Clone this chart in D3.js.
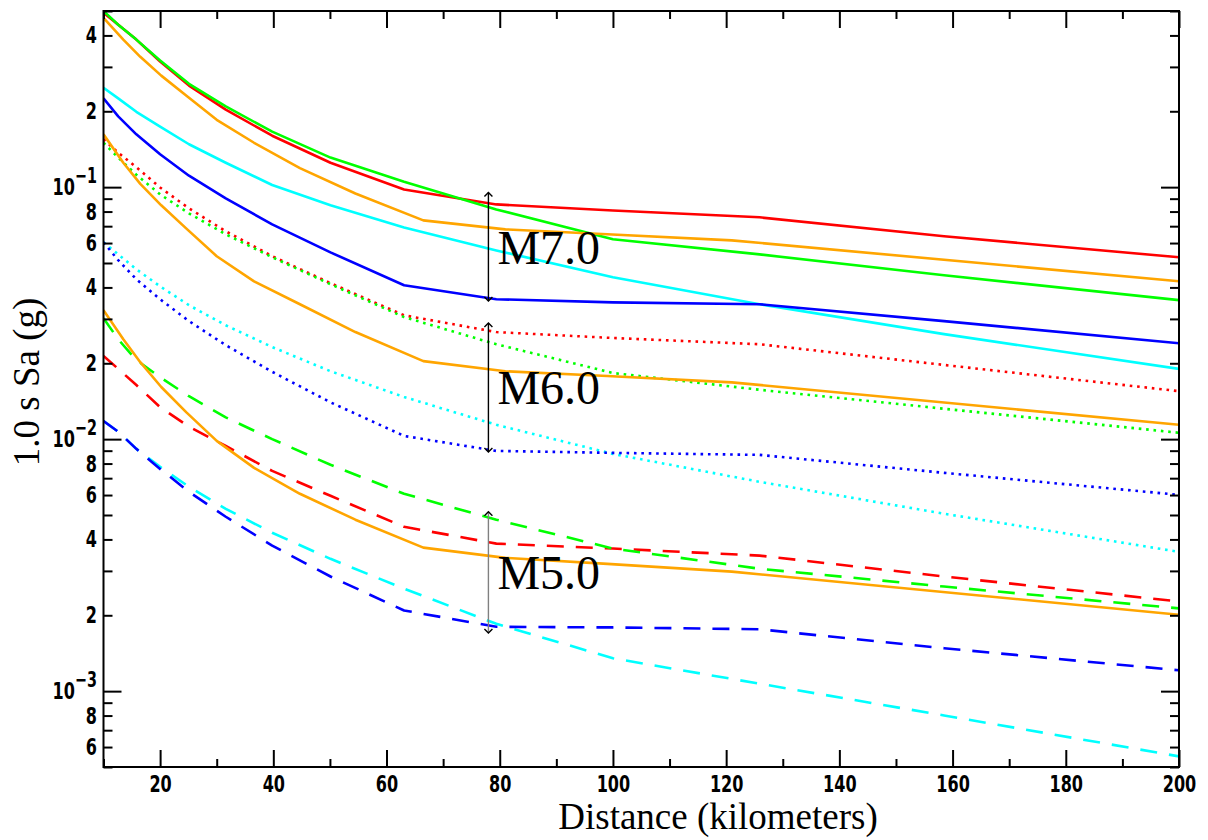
<!DOCTYPE html>
<html>
<head>
<meta charset="utf-8">
<script src="https://cdn.jsdelivr.net/npm/d3@7"></script>
<style>
  body { margin: 0; background: #ffffff; }
  svg { display: block; }
</style>
</head>
<body>
<svg id="chart" width="1208" height="840"></svg>
<script>
// Distance samples (km) for the four attenuation models
const distances = [10, 12.6, 15.8, 20, 25.1, 31.6, 39.8, 50.1, 63.1, 79.4, 100, 125.9, 158.5, 200];
// Distance samples (km) for the orange reference curves
const distancesOrange = [10, 13.5, 16.5, 20.2, 24.6, 30, 36.6, 44.7, 54.5, 66.5, 81, 99, 121, 200];

// 1.0 s spectral acceleration (g), magnitude 7.0
const redM7    = [0.492, 0.441, 0.385, 0.315, 0.253, 0.203, 0.160, 0.125, 0.0979, 0.0854, 0.0808, 0.0759, 0.0638, 0.0527];
const greenM7  = [0.500, 0.441, 0.385, 0.318, 0.257, 0.209, 0.166, 0.131, 0.105, 0.0816, 0.0621, 0.0541, 0.0447, 0.0356];
const cyanM7   = [0.248, 0.225, 0.199, 0.174, 0.148, 0.125, 0.102, 0.0847, 0.0692, 0.0561, 0.0439, 0.0343, 0.0261, 0.0190];
const blueM7   = [0.225, 0.191, 0.162, 0.135, 0.111, 0.0902, 0.0712, 0.0551, 0.0408, 0.0359, 0.0349, 0.0343, 0.0294, 0.0240];
const orangeM7 = [0.470, 0.385, 0.329, 0.277, 0.231, 0.185, 0.150, 0.119, 0.0944, 0.0738, 0.0680, 0.0650, 0.0615, 0.0423];

// magnitude 6.0
const redM6    = [0.155, 0.137, 0.120, 0.0997, 0.0824, 0.0668, 0.0532, 0.0416, 0.0310, 0.0266, 0.0252, 0.0238, 0.0197, 0.0155];
const greenM6  = [0.150, 0.131, 0.112, 0.0936, 0.0787, 0.0650, 0.0527, 0.0412, 0.0305, 0.0238, 0.0183, 0.0157, 0.0132, 0.0106];
const cyanM6   = [0.0604, 0.0541, 0.0472, 0.0404, 0.0340, 0.0283, 0.0232, 0.0186, 0.0147, 0.0114, 0.00874, 0.00677, 0.00506, 0.00357];
const blueM6   = [0.0604, 0.0513, 0.0431, 0.0359, 0.0294, 0.0236, 0.0185, 0.0140, 0.0103, 0.00898, 0.00882, 0.00866, 0.00735, 0.00601];
const orangeM6 = [0.162, 0.125, 0.103, 0.0847, 0.0686, 0.0532, 0.0423, 0.0343, 0.0266, 0.0204, 0.0186, 0.0178, 0.0168, 0.0114];

// magnitude 5.0
const redM5    = [0.0214, 0.0190, 0.0164, 0.0134, 0.0112, 0.00940, 0.00748, 0.00596, 0.00449, 0.00385, 0.00368, 0.00345, 0.00285, 0.00227];
const greenM5  = [0.0302, 0.0249, 0.0206, 0.0176, 0.0148, 0.0122, 0.0100, 0.00791, 0.00607, 0.00479, 0.00368, 0.00306, 0.00260, 0.00213];
const cyanM5   = [0.0118, 0.0107, 0.00915, 0.00776, 0.00647, 0.00529, 0.00425, 0.00335, 0.00255, 0.00185, 0.00135, 0.00107, 0.000801, 0.000551];
const blueM5   = [0.0118, 0.0107, 0.00915, 0.00762, 0.00618, 0.00492, 0.00378, 0.00285, 0.00209, 0.00180, 0.00179, 0.00176, 0.00148, 0.00121];
const orangeM5 = [0.0325, 0.0249, 0.0202, 0.0161, 0.0128, 0.00984, 0.00769, 0.00607, 0.00479, 0.00371, 0.00338, 0.00320, 0.00298, 0.00201];

// Magnitude range markers
const magnitudeLabels = ["M7.0", "M6.0", "M5.0"];
const markerDistance = 78;
const markerLow  = [0.0353, 0.0089, 0.0017];
const markerHigh = [0.0953, 0.0289, 0.00515];

// Axis ticks
const xMajorTicks = [20, 40, 60, 80, 100, 120, 140, 160, 180, 200];
const xMinorTicks = [10, 30, 50, 70, 90, 110, 130, 150, 170, 190];
const yLabelDigits = [2, 4, 6, 8];

const svg = d3.select("#chart");
const plotLeft = 103.5, plotRight = 1179, plotTop = 11, plotBottom = 767;

const x = d3.scaleLinear().domain([10, 200]).range([plotLeft, plotRight]);
const y = d3.scaleLog().domain([5e-4, 0.5]).range([plotBottom, plotTop]);

const colors = { red: "#ff0000", green: "#00ff00", cyan: "#00ffff", blue: "#0000ff", orange: "#ffa500" };
const dashes = { solid: null, dotted: "2.6,4.8", dashed: "17,12" };

const series = [
  { v: redM7, d: distances, c: colors.red, s: "solid" },
  { v: greenM7, d: distances, c: colors.green, s: "solid" },
  { v: cyanM7, d: distances, c: colors.cyan, s: "solid" },
  { v: blueM7, d: distances, c: colors.blue, s: "solid" },
  { v: redM6, d: distances, c: colors.red, s: "dotted" },
  { v: greenM6, d: distances, c: colors.green, s: "dotted" },
  { v: cyanM6, d: distances, c: colors.cyan, s: "dotted" },
  { v: blueM6, d: distances, c: colors.blue, s: "dotted" },
  { v: redM5, d: distances, c: colors.red, s: "dashed" },
  { v: greenM5, d: distances, c: colors.green, s: "dashed" },
  { v: cyanM5, d: distances, c: colors.cyan, s: "dashed" },
  { v: blueM5, d: distances, c: colors.blue, s: "dashed" },
  { v: orangeM7, d: distancesOrange, c: colors.orange, s: "solid" },
  { v: orangeM6, d: distancesOrange, c: colors.orange, s: "solid" },
  { v: orangeM5, d: distancesOrange, c: colors.orange, s: "solid" }
];

const line = d3.line().x(p => x(p[0])).y(p => y(p[1]));

svg.append("defs").append("clipPath").attr("id", "plot-clip")
  .append("rect").attr("x", plotLeft).attr("y", plotTop)
  .attr("width", plotRight - plotLeft).attr("height", plotBottom - plotTop);

const curves = svg.append("g").attr("clip-path", "url(#plot-clip)");
series.forEach(sr => {
  curves.append("path")
    .datum(sr.d.map((dd, i) => [dd, sr.v[i]]))
    .attr("d", line)
    .attr("fill", "none")
    .attr("stroke", sr.c)
    .attr("stroke-width", 2.6)
    .attr("stroke-linejoin", "round")
    .attr("stroke-dasharray", dashes[sr.s]);
});

// Magnitude range markers with double-headed arrows
const markers = svg.append("g");
magnitudeLabels.forEach((lab, i) => {
  const mx = x(markerDistance);
  const y0 = y(markerHigh[i]), y1 = y(markerLow[i]);
  markers.append("line")
    .attr("x1", mx).attr("x2", mx).attr("y1", y0).attr("y2", y1)
    .attr("stroke", i === 2 ? "#808080" : "#000").attr("stroke-width", 1.4);
  markers.append("path")
    .attr("d", `M${mx - 4},${y0 + 4}L${mx},${y0}L${mx + 4},${y0 + 4}M${mx - 4},${y1 - 4}L${mx},${y1}L${mx + 4},${y1 - 4}`)
    .attr("fill", "none").attr("stroke", "#000").attr("stroke-width", 1.4);
  markers.append("text")
    .attr("x", mx + 9)
    .attr("y", (y0 + y1) / 2 + 17)
    .attr("font-family", "'Liberation Serif', 'Times New Roman', serif")
    .attr("font-size", 48)
    .attr("fill", "#000")
    .text(lab);
});

// Axes: condensed bold numerals, squeezed horizontally
const tickFont = "'DejaVu Sans Condensed', 'DejaVu Sans', sans-serif";
const squeeze = 0.76;
function styleAxis(g) {
  g.select(".domain").remove();
  g.selectAll(".tick line").attr("stroke", "#000").attr("stroke-width", 2);
  g.selectAll("text").attr("font-family", tickFont).attr("font-size", 23.5)
    .attr("font-weight", "bold").attr("fill", "#000")
    .attr("transform", `scale(${squeeze},1)`);
}

// bottom
svg.append("g").attr("transform", `translate(0,${plotBottom})`)
  .call(d3.axisBottom(x).tickValues(xMajorTicks).tickSize(-17).tickPadding(8).tickFormat(d3.format("d")))
  .call(styleAxis);
svg.append("g").attr("transform", `translate(0,${plotBottom})`)
  .call(d3.axisBottom(x).tickValues(xMinorTicks).tickSize(-8).tickFormat(""))
  .call(styleAxis);
// top
svg.append("g").attr("transform", `translate(0,${plotTop})`)
  .call(d3.axisTop(x).tickValues(xMajorTicks).tickSize(-17).tickFormat(""))
  .call(styleAxis);
svg.append("g").attr("transform", `translate(0,${plotTop})`)
  .call(d3.axisTop(x).tickValues(xMinorTicks).tickSize(-8).tickFormat(""))
  .call(styleAxis);

const allY = y.ticks();
const isPow10 = v => Math.abs(Math.log10(v) - Math.round(Math.log10(v))) < 1e-6;
const lead = v => Math.round(v / Math.pow(10, Math.floor(Math.log10(v) + 1e-9)));
const yMajor = allY.filter(isPow10);
const yMinor = allY.filter(v => !isPow10(v));
const labelPad = 6.5 / squeeze;

// left
const leftMajor = svg.append("g").attr("transform", `translate(${plotLeft},0)`)
  .call(d3.axisLeft(y).tickValues(yMajor).tickSize(-18).tickPadding(labelPad).tickFormat(() => ""))
  .call(styleAxis);
leftMajor.selectAll(".tick text").each(function(v) {
  const t = d3.select(this);
  t.text(null);
  t.append("tspan").text("10");
  t.append("tspan").attr("dy", -12).attr("font-size", 21).text("\u2212" + Math.abs(Math.round(Math.log10(v))));
});
svg.append("g").attr("transform", `translate(${plotLeft},0)`)
  .call(d3.axisLeft(y).tickValues(yMinor).tickSize(-9).tickPadding(labelPad)
    .tickFormat(v => yLabelDigits.includes(lead(v)) ? String(lead(v)) : ""))
  .call(styleAxis);
// right
svg.append("g").attr("transform", `translate(${plotRight},0)`)
  .call(d3.axisRight(y).tickValues(yMajor).tickSize(-18).tickFormat(""))
  .call(styleAxis);
svg.append("g").attr("transform", `translate(${plotRight},0)`)
  .call(d3.axisRight(y).tickValues(yMinor).tickSize(-9).tickFormat(""))
  .call(styleAxis);

// frame
svg.append("rect")
  .attr("x", plotLeft).attr("y", plotTop)
  .attr("width", plotRight - plotLeft).attr("height", plotBottom - plotTop)
  .attr("fill", "none").attr("stroke", "#000").attr("stroke-width", 2);

// axis titles
svg.append("text")
  .attr("x", 718).attr("y", 829)
  .attr("text-anchor", "middle")
  .attr("font-family", "'Liberation Serif', 'Times New Roman', serif")
  .attr("font-size", 37)
  .text("Distance (kilometers)");
svg.append("text")
  .attr("transform", "translate(39,382) rotate(-90)")
  .attr("text-anchor", "middle")
  .attr("font-family", "'Liberation Serif', 'Times New Roman', serif")
  .attr("font-size", 37)
  .text("1.0 s Sa (g)");
</script>
</body>
</html>
